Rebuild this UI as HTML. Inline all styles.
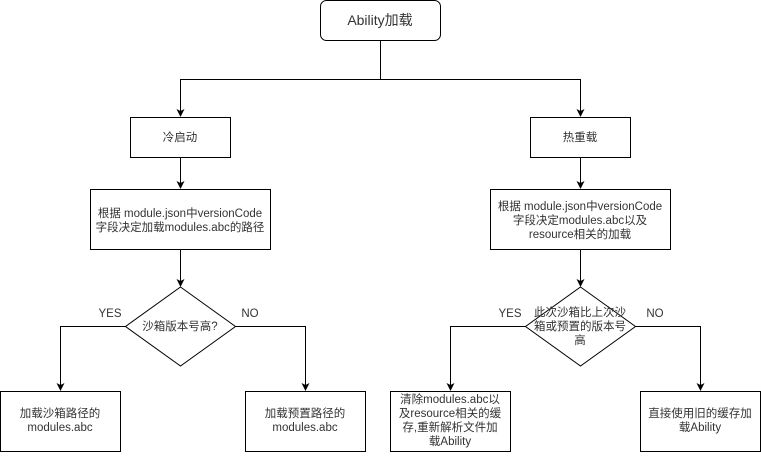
<!DOCTYPE html>
<html><head><meta charset="utf-8"><style>
body{margin:0;background:#fff;}
svg text{font-family:"Liberation Sans","Noto Sans CJK SC",sans-serif;font-size:11.5px;fill:#333;}
</style></head><body>
<svg width="761" height="452" viewBox="0 0 761 452" xmlns="http://www.w3.org/2000/svg">
<defs><marker id="a" markerWidth="8" markerHeight="8" refX="7" refY="4" orient="auto" markerUnits="userSpaceOnUse"><path d="M0,0 L8,4 L0,8 L2,4 z" fill="#000"/></marker></defs>
<g fill="none" stroke="#000" stroke-width="1">
<rect x="320.5" y="0.5" width="120" height="40" rx="6" fill="#fff"/>
<path d="M380.5 40 V79.5 H180.5 V116" stroke="#000" marker-end="url(#a)"/>
<path d="M380.5 79.5 H580.5 V116" marker-end="url(#a)"/>
<rect x="130.5" y="117.5" width="100" height="40"/>
<rect x="530.5" y="117.5" width="100" height="40"/>
<path d="M180.5 157.5 V188" marker-end="url(#a)"/>
<path d="M580.5 157.5 V188" marker-end="url(#a)"/>
<rect x="90.5" y="189.5" width="180" height="60"/>
<rect x="490.5" y="189.5" width="180" height="60"/>
<path d="M180.5 249.5 V286" marker-end="url(#a)"/>
<path d="M580.5 249.5 V286" marker-end="url(#a)"/>
<path d="M180.5 287 L235.5 326.5 L180.5 366 L125.5 326.5 Z"/>
<path d="M580.5 287 L635.5 326.5 L580.5 366 L525.5 326.5 Z"/>
<path d="M125.5 326.5 H60.5 V390" marker-end="url(#a)"/>
<path d="M235.5 326.5 H305.5 V390" marker-end="url(#a)"/>
<path d="M525.5 326.5 H450.5 V390" marker-end="url(#a)"/>
<path d="M635.5 326.5 H700.5 V390" marker-end="url(#a)"/>
<rect x="0.5" y="391.5" width="120" height="60"/>
<rect x="245.5" y="391.5" width="120" height="60"/>
<rect x="390.5" y="391.5" width="120" height="60"/>
<rect x="640.5" y="391.5" width="120" height="60"/>
</g>
<g text-anchor="middle">
<text x="380" y="25" style="font-size:14px">Ability加载</text>
<text x="180" y="141">冷启动</text>
<text x="580" y="141">热重载</text>
<text x="180" y="217">根据 module.json中versionCode</text>
<text x="180" y="231">字段决定加载modules.abc的路径</text>
<text x="580" y="210">根据 module.json中versionCode</text>
<text x="580" y="224">字段决定modules.abc以及</text>
<text x="580" y="238">resource相关的加载</text>
<text x="180" y="330">沙箱版本号高?</text>
<text x="580" y="316">此次沙箱比上次沙</text>
<text x="580" y="330">箱或预置的版本号</text>
<text x="580" y="344">高</text>
<text x="110" y="317">YES</text>
<text x="250" y="317">NO</text>
<text x="510" y="317">YES</text>
<text x="655" y="317">NO</text>
<text x="60" y="417">加载沙箱路径的</text>
<text x="60" y="431">modules.abc</text>
<text x="305" y="417">加载预置路径的</text>
<text x="305" y="431">modules.abc</text>
<text x="450" y="403">清除modules.abc以</text>
<text x="450" y="417">及resource相关的缓</text>
<text x="450" y="431">存,重新解析文件加</text>
<text x="450" y="445">载Ability</text>
<text x="700" y="417">直接使用旧的缓存加</text>
<text x="700" y="431">载Ability</text>
</g>
</svg>
</body></html>
